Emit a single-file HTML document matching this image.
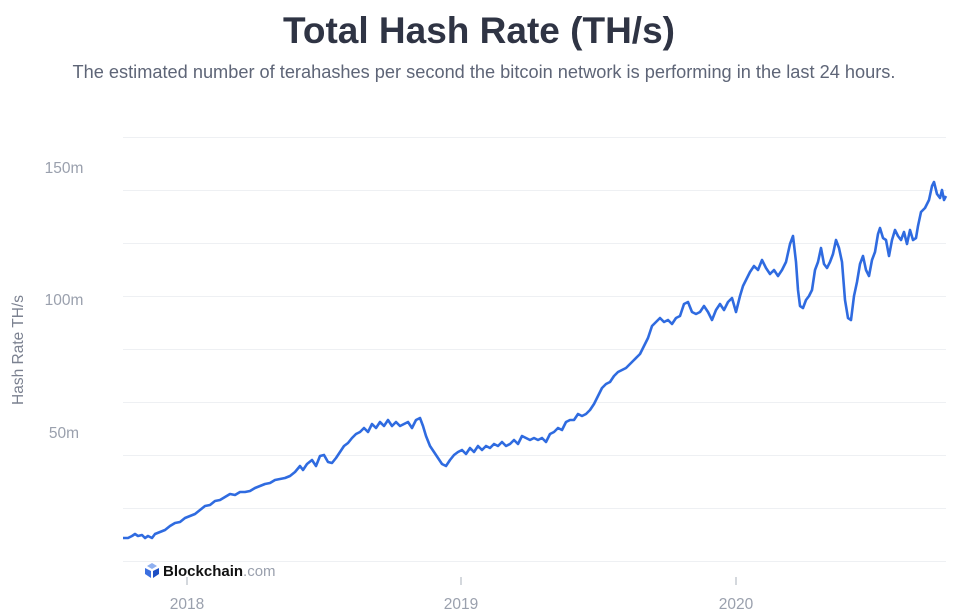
<!DOCTYPE html>
<html><head><meta charset="utf-8"><style>
body{margin:0;width:958px;height:616px;background:#fff;font-family:"Liberation Sans",sans-serif;overflow:hidden;position:relative}
.t{position:absolute;top:10px;width:958px;text-align:center;font-size:37px;font-weight:bold;color:#2f3444}
.s{position:absolute;top:62px;width:968px;text-align:center;font-size:18.2px;color:#5e6577}
</style></head><body>
<div class="t">Total Hash Rate (TH/s)</div>
<div class="s">The estimated number of terahashes per second the bitcoin network is performing in the last 24 hours.</div>
<svg width="958" height="616" style="position:absolute;left:0;top:0">
<g stroke="#eef0f3" stroke-width="1">
<line x1="123" x2="946" y1="137.5" y2="137.5"/><line x1="123" x2="946" y1="190.5" y2="190.5"/><line x1="123" x2="946" y1="243.5" y2="243.5"/><line x1="123" x2="946" y1="296.5" y2="296.5"/><line x1="123" x2="946" y1="349.5" y2="349.5"/><line x1="123" x2="946" y1="402.5" y2="402.5"/><line x1="123" x2="946" y1="455.5" y2="455.5"/><line x1="123" x2="946" y1="508.5" y2="508.5"/><line x1="123" x2="946" y1="561.5" y2="561.5"/>
</g>
<g fill="#9aa0ad" font-size="15.5" font-family="Liberation Sans,sans-serif" text-anchor="middle">
<text x="64" y="173">150m</text><text x="64" y="305">100m</text><text x="64" y="438">50m</text>
<text x="187" y="609">2018</text><text x="461" y="609">2019</text><text x="736" y="609">2020</text>
<text transform="translate(23,350) rotate(-90)" fill="#7b8190">Hash Rate TH/s</text>
</g>
<g stroke="#aab0bb"><line x1="187" x2="187" y1="577" y2="585"/><line x1="461" x2="461" y1="577" y2="585"/><line x1="736" x2="736" y1="577" y2="585"/></g>
<g transform="translate(145,563)"><path d="M7 0 L12 3 L7 6 L2 3Z" fill="#8fb0f0"/><path d="M0 5 L6 8 L6 15 L0 11Z" fill="#3b6fe0"/><path d="M14 5 L8 8 L8 15 L14 11Z" fill="#1d4fc4"/></g>
<text x="163" y="576" font-size="15" font-weight="bold" fill="#111" font-family="Liberation Sans,sans-serif">Blockchain<tspan fill="#9aa0ad" font-weight="normal">.com</tspan></text>
<polyline fill="none" stroke="#2f6be0" stroke-width="2.6" stroke-linejoin="round" points="123,538 128,538 132,536 135,534 138,536 142,535 145,538 148,536 152,538 155,534 160,532 165,530 170,526 175,523 180,522 185,518 190,516 195,514 200,510 205,506 210,505 215,501 220,500 225,497 230,494 235,495 240,492 245,492 250,491 255,488 260,486 265,484 270,483 275,480 280,479 285,478 290,476 295,472 300,466 303,470 307,464 312,460 316,466 320,456 324,455 328,462 332,463 336,458 340,452 344,446 348,443 352,438 356,434 360,432 364,428 368,432 372,424 376,428 380,422 384,426 388,420 392,426 396,422 400,426 404,424 408,422 412,428 416,420 420,418 423,426 426,436 430,446 434,452 438,458 442,464 446,466 450,460 454,455 458,452 462,450 466,454 470,448 474,452 478,446 482,450 486,446 490,448 494,444 498,446 502,442 506,446 510,444 514,440 518,444 522,436 526,438 530,440 534,438 538,440 542,438 546,442 550,434 554,432 558,428 562,430 566,422 570,420 574,420 578,414 582,416 586,414 590,410 594,404 598,396 602,388 606,384 610,382 614,376 618,372 622,370 626,368 630,364 634,360 638,356 640,354 644,346 648,338 652,326 656,322 660,318 664,322 668,320 672,324 676,318 680,316 684,304 688,302 692,312 696,314 700,312 704,306 708,312 712,320 716,310 720,304 724,310 728,302 732,298 736,312 740,296 743,286 746,280 750,272 754,266 758,270 762,260 766,268 770,274 774,270 778,276 782,270 786,262 790,244 793,236 796,262 798,290 800,306 803,308 806,300 809,296 812,290 815,270 818,262 821,248 824,264 827,268 830,262 833,254 836,240 839,248 842,262 845,300 848,318 851,320 854,296 857,282 860,264 863,256 866,270 869,276 872,260 875,252 878,234 880,228 883,238 886,240 889,256 892,240 895,230 898,236 901,240 904,232 907,244 910,230 913,240 916,238 918,226 921,212 925,208 929,200 932,186 934,182 937,194 940,198 942,190 944,200 946,196"/>
</svg>
</body></html>
